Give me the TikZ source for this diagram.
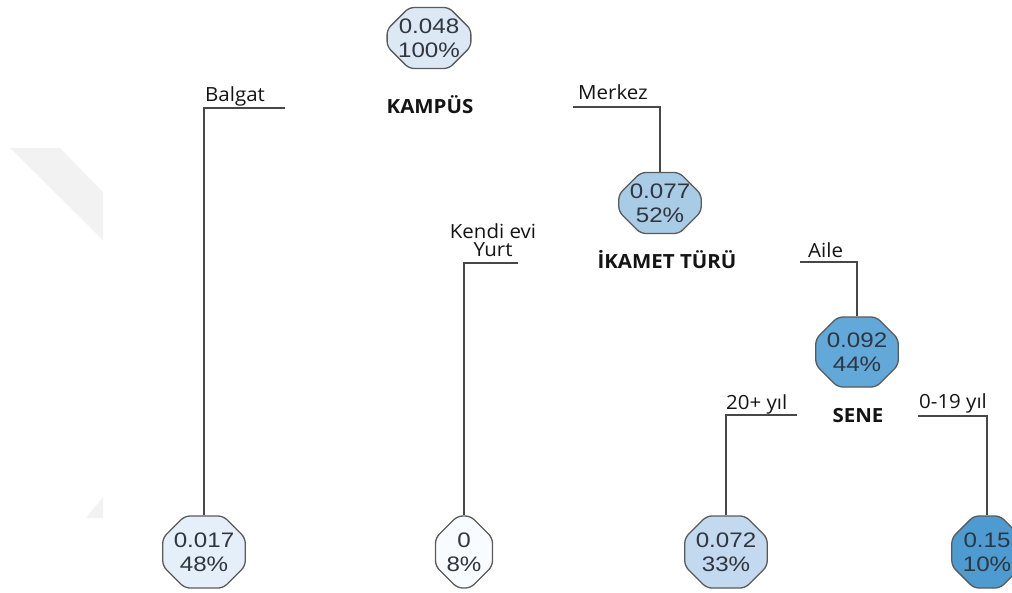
\documentclass[tikz,border=0pt]{standalone}
\usepackage{fontspec}
\setmainfont{Open Sans}
\newfontfamily\labfont[FakeStretch=1.05]{Open Sans}
\newfontfamily\numfont[FakeStretch=1.15]{Liberation Sans}
\usetikzlibrary{shapes.misc}
\definecolor{boxline}{HTML}{5A5A5A}
\definecolor{numtext}{HTML}{30353E}
\definecolor{conn}{HTML}{474747}
\definecolor{wm}{HTML}{F2F2F2}
\definecolor{cRoot}{HTML}{DCE9F5}
\definecolor{cA}{HTML}{A8CBE6}
\definecolor{cB}{HTML}{62A8D9}
\definecolor{cL1}{HTML}{E4EFF9}
\definecolor{cL2}{HTML}{F8FBFF}
\definecolor{cL3}{HTML}{C2D9EF}
\definecolor{cL4}{HTML}{4E9BD2}
\begin{document}
\begin{tikzpicture}[x=1pt,y=-1pt,
  box/.style={chamfered rectangle, chamfered rectangle xsep=11pt,
    chamfered rectangle ysep=11pt, rounded corners=5pt, draw=boxline,
    line width=1.3pt, inner sep=0pt, align=center,
    font=\numfont\fontsize{21}{24}\selectfont, text=numtext},
  lab/.style={inner sep=0pt, font=\labfont\fontsize{19.5}{20}\selectfont, text=black!92},
  var/.style={inner sep=0pt, font=\labfont\bfseries\fontsize{19.5}{20}\selectfont, text=black!92},
  link/.style={draw=conn, line width=1.3pt}]
\useasboundingbox (0,0) rectangle (1012,592);
% faint watermark
\fill[wm] (10,148) -- (60,148) -- (103,192) -- (103,240) -- cycle;
\fill[wm] (103,497) -- (103,518) -- (86,518) -- cycle;
% nodes
\node[box, fill=cRoot, minimum width=70pt, minimum height=61pt] (root) at (429,38) {0.048\\100\%};
\node[box, fill=cA, minimum width=74pt, minimum height=61pt] (n077) at (660,203) {0.077\\52\%};
\node[box, fill=cB, minimum width=75pt, minimum height=70pt] (n092) at (857,352) {0.092\\44\%};
\node[box, fill=cL1, minimum width=73pt, minimum height=72pt] (l017) at (204,552) {0.017\\48\%};
\node[box, fill=cL2, minimum width=50pt, minimum height=72pt] (l0) at (464,552) {0\\8\%};
\node[box, fill=cL3, minimum width=73pt, minimum height=72pt] (l072) at (726,552) {0.072\\33\%};
\node[box, fill=cL4, minimum width=60pt, minimum height=72pt] (l15) at (987,552) {0.15\\10\%};
% split variable labels
\node[var, anchor=base] (vK) at (430,113) {KAMPÜS};
\node[var, anchor=base] (vI) at (667,268) {İKAMET TÜRÜ};
\node[var, anchor=base] (vS) at (858,422) {SENE};
% connector ends
\coordinate (eBal) at (285,108);
\coordinate (eMer) at (573,107);
\coordinate (eYurt) at (518,263);
\coordinate (eAile) at (800,262);
\coordinate (e20) at (797,415);
\coordinate (e019) at (918,416);
\draw[link] (eBal) -| (l017.north);
\draw[link] (eMer) -| (n077.north);
\draw[link] (eYurt) -| (l0.north);
\draw[link] (eAile) -| (n092.north);
\draw[link] (e20) -| (l072.north);
\draw[link] (e019) -| (l15.north);
% branch labels
\node[lab, anchor=base west] (tBal) at (205,101) {Balgat};
\node[lab, anchor=base west] (tMer) at (578,99) {Merkez};
\node[lab, anchor=base] (tKen) at (493,238) {Kendi evi};
\node[lab, anchor=base] (tYurt) at (493,256) {Yurt};
\node[lab, anchor=base west] (tAile) at (808,257) {Aile};
\node[lab, anchor=base west] (t20) at (726,409) {20+ yıl};
\node[lab, anchor=base west] (t019) at (919,408) {0-19 yıl};
\end{tikzpicture}
\end{document}
